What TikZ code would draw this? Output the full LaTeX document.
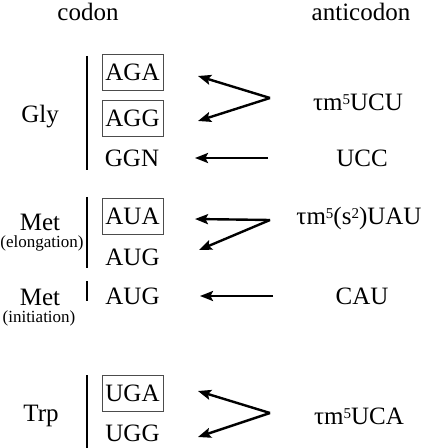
\documentclass[tikz,border=0pt]{standalone}
\usepackage{fontspec}
\setmainfont{Liberation Serif}
\usetikzlibrary{arrows.meta}
\newcommand{\sps}[1]{\raisebox{6bp}{\fontsize{15bp}{15bp}\selectfont #1}}
\begin{document}
\begin{tikzpicture}[x=1bp,y=1bp,
  every node/.style={inner sep=0pt, font=\fontsize{25bp}{30bp}\selectfont},
  small/.style={font=\fontsize{17bp}{20bp}\selectfont},
  codbox/.style={draw=black!70, line width=0.9bp, minimum width=61bp, minimum height=36bp},
  bar/.style={line width=2bp},
  arr/.style={line width=2.4bp, -{Stealth[length=13bp,width=10bp,inset=2.5bp]}}]
\useasboundingbox (0,0) rectangle (428,-448);

% headers
\node (hcod) at (88,-12) {codon};
\node (hanti) at (361,-12) {anticodon};

% Gly
\node (gly) at (40,-117) {Gly};
\coordinate (gb1) at (87,-56); \coordinate (gb2) at (87,-170);
\draw[bar] (gb1) -- (gb2);
\node[codbox] (aga) at (132.5,-72) {AGA};
\node[codbox] (agg) at (132.5,-118.5) {AGG};
\node (ggn) at (132,-158) {GGN};
\node (ucu) at (358,-102) {τm\sps{5}UCU};
\node (ucc) at (362,-158) {UCC};
\coordinate (v1) at (270,-98);
\coordinate (t1a) at (198,-76); \coordinate (t1b) at (198,-121);
\draw[arr] (v1) -- (t1a);
\draw[arr] (v1) -- (t1b);
\coordinate (s1) at (268,-158); \coordinate (t1c) at (195,-158);
\draw[arr] (s1) -- (t1c);

% Met elongation
\node (met1) at (40,-222) {Met};
\node[small] (elong) at (42,-243) {(elongation)};
\coordinate (mb1) at (87,-197); \coordinate (mb2) at (87,-268);
\draw[bar] (mb1) -- (mb2);
\node[codbox] (aua) at (132.5,-216.5) {AUA};
\node (aug1) at (132.5,-257) {AUG};
\node (uau) at (359,-218) {τm\sps{5}(s\sps{2})UAU};
\coordinate (v2) at (270,-220);
\coordinate (t2a) at (195,-219); \coordinate (t2b) at (199,-250);
\draw[arr] (v2) -- (t2a);
\draw[arr] (v2) -- (t2b);

% Met initiation
\node (met2) at (40,-297) {Met};
\node[small] (init) at (39,-318) {(initiation)};
\coordinate (ib1) at (87,-281); \coordinate (ib2) at (87,-301);
\draw[bar] (ib1) -- (ib2);
\node (aug2) at (132.5,-296) {AUG};
\node (cau) at (362,-296) {CAU};
\coordinate (s3) at (273,-296); \coordinate (t3) at (200,-296);
\draw[arr] (s3) -- (t3);

% Trp
\node (trp) at (41,-416) {Trp};
\coordinate (tb1) at (87,-375); \coordinate (tb2) at (87,-448);
\draw[bar] (tb1) -- (tb2);
\node[codbox] (uga) at (132.5,-393.5) {UGA};
\node (ugg) at (132.5,-433) {UGG};
\node (uca) at (359,-416) {τm\sps{5}UCA};
\coordinate (v4) at (270,-413);
\coordinate (t4a) at (198,-391); \coordinate (t4b) at (198,-437);
\draw[arr] (v4) -- (t4a);
\draw[arr] (v4) -- (t4b);
\end{tikzpicture}
\end{document}
